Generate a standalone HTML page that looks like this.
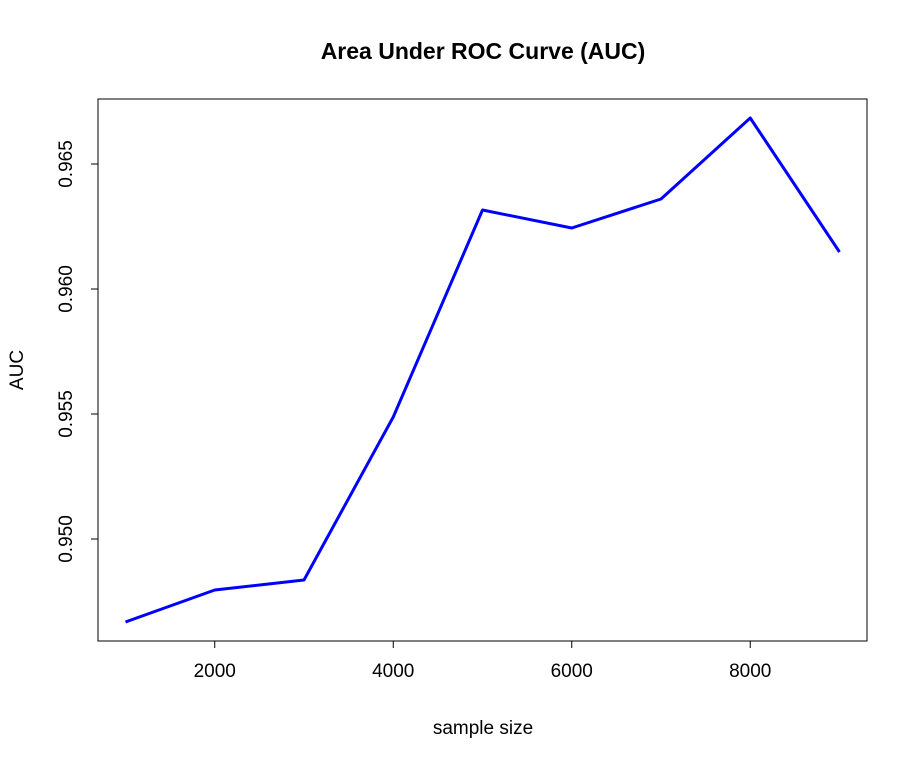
<!DOCTYPE html>
<html><head><meta charset="utf-8"><style>
html,body{margin:0;padding:0;background:#fff;}
svg{display:block;font-family:"Liberation Sans",Arial,sans-serif;}
</style></head><body>
<svg id="chart" width="918" height="765" xmlns="http://www.w3.org/2000/svg">
<text x="483" y="59" text-anchor="middle" font-size="23" font-weight="bold">Area Under ROC Curve (AUC)</text>
<rect x="98" y="99" width="769" height="542" fill="none" stroke="#000" stroke-width="1"/>
<g id="xaxis"></g>
<g id="yaxis"></g>
<text x="483" y="734" text-anchor="middle" font-size="19">sample size</text>
<text transform="translate(23,370) rotate(-90)" text-anchor="middle" font-size="19">AUC</text>
<g id="series"></g>
</svg>
<script>
const sampleSizes=[1000,2000,3000,4000,5000,6000,7000,8000,9000];
const aucValues=[0.94668,0.94796,0.94836,0.95488,0.96316,0.96244,0.9636,0.96684,0.96148];
const xTicks=[2000,4000,6000,8000];
const yTicks=[0.950,0.955,0.960,0.965];
const yTickLabels=["0.950","0.955","0.960","0.965"];
const NS="http://www.w3.org/2000/svg";
function xs(v){return 125.5+(v-1000)*0.08925;}
function ys(v){return 539-(v-0.950)*25000;}
const xa=document.getElementById('xaxis'),ya=document.getElementById('yaxis'),sg=document.getElementById('series');
function mk(t,a){const e=document.createElementNS(NS,t);for(const k in a)e.setAttribute(k,a[k]);return e;}
let l=mk('line',{x1:xs(xTicks[0]),x2:xs(xTicks[xTicks.length-1]),y1:641,y2:641,stroke:'#000'});


xa.appendChild(l);
xTicks.forEach(t=>{
 const tk=mk('line',{x1:xs(t),x2:xs(t),y1:641,y2:648,stroke:'#000'});
 
 
 xa.appendChild(tk);
 const tx=mk('text',{x:xs(t),y:677,'text-anchor':'middle','font-size':'19'});
 tx.textContent=t;
 
 
 xa.appendChild(tx);
});
l=mk('line',{x1:98,x2:98,y1:ys(yTicks[0]),y2:ys(yTicks[yTicks.length-1]),stroke:'#000'});


ya.appendChild(l);
yTicks.forEach((t,i)=>{
 const tk=mk('line',{x1:91,x2:98,y1:ys(t),y2:ys(t),stroke:'#000'});
 
 
 ya.appendChild(tk);
 const tx=mk('text',{transform:`translate(72,${ys(t)}) rotate(-90)`,'text-anchor':'middle','font-size':'19'});
 tx.textContent=yTickLabels[i];
 
 
 ya.appendChild(tx);
});
const pts=sampleSizes.map((s,i)=>xs(s)+','+ys(aucValues[i])).join(' ');
const pl=mk('polyline',{points:pts,fill:'none',stroke:'#0000ff','stroke-width':'3','stroke-linejoin':'round'});


sg.appendChild(pl);
</script>
</body></html>
